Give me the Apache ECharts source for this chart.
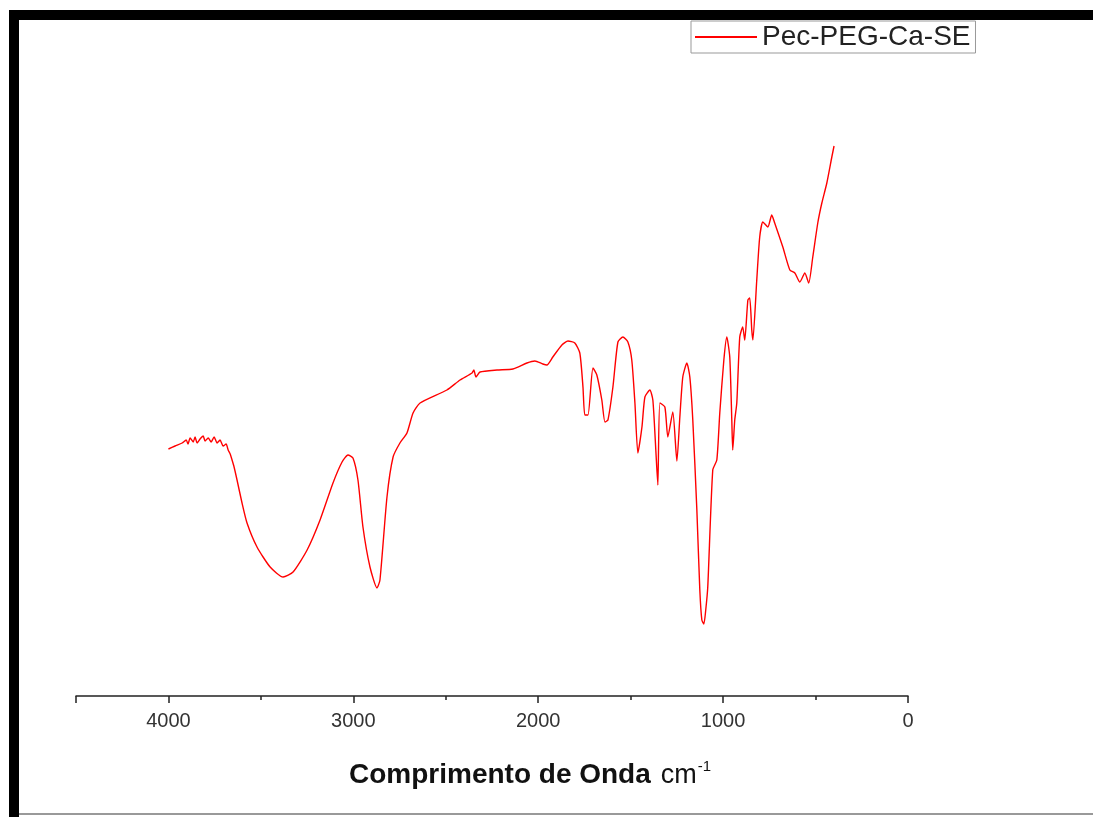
<!DOCTYPE html>
<html>
<head>
<meta charset="utf-8">
<script src="https://cdn.jsdelivr.net/npm/echarts@6/dist/echarts.min.js"></script>
<style>
html,body{margin:0;padding:0;background:#fff;}
#chart{width:1093px;height:817px;}
</style>
</head>
<body>
<div id="chart"></div>
<script>
// Wavenumber (cm^-1) and transmittance (arbitrary units)
const wavenumbers = [4000,3964,3926,3904,3894,3883,3866,3856,3845,3829,3812,3802,3785,3769,3753,3737,3721,3704,3688,3677,3666,3656,3645,3629,3602,3575,3521,3450,3380,3326,3250,3180,3110,3061,3029,3002,2975,2948,2910,2872,2856,2818,2785,2748,2710,2677,2639,2494,2423,2358,2348,2337,2315,2223,2137,2061,2018,1975,1953,1921,1872,1839,1802,1775,1758,1748,1731,1704,1683,1656,1639,1623,1596,1569,1542,1515,1494,1477,1461,1439,1423,1396,1380,1364,1353,1342,1315,1299,1272,1250,1234,1218,1196,1180,1164,1142,1126,1115,1104,1094,1083,1056,1034,1018,996,980,964,953,948,937,926,910,894,883,866,856,845,839,818,802,785,758,737,721,677,639,612,585,558,537,515,488,466,439,412,400];
const transmittance = [24.7,25.0,25.3,25.6,25.2,25.8,25.4,25.9,25.3,25.7,26.0,25.5,25.8,25.4,25.9,25.3,25.6,25.0,25.2,24.6,24.2,23.6,22.9,21.6,19.3,17.3,14.9,12.9,11.9,12.4,14.6,17.6,21.3,23.4,24.1,23.8,21.6,16.9,12.9,10.8,11.6,19.9,23.9,25.3,26.3,28.3,29.3,30.6,31.6,32.3,32.6,31.9,32.4,32.6,32.7,33.3,33.5,33.2,33.1,33.9,35.1,35.5,35.3,34.3,30.9,28.1,28.1,32.8,32.1,29.6,27.4,27.6,30.9,35.4,35.9,35.4,33.6,29.3,24.3,26.9,29.9,30.6,29.6,24.6,21.1,29.3,28.9,25.9,28.4,23.5,27.9,31.9,33.3,31.9,27.6,18.6,10.6,7.6,7.2,8.6,10.9,22.6,23.6,28.3,33.6,35.9,33.9,27.6,24.6,27.6,29.3,35.9,36.9,35.6,39.6,39.8,36.6,35.6,41.6,45.9,47.4,46.9,48.1,47.3,44.9,42.6,42.3,41.4,42.3,41.3,43.9,47.3,49.3,51.3,53.9,55.0];
const seriesName = 'Pec-PEG-Ca-SE';
const majorTicks = [0,1000,2000,3000,4000];
const xTitle = 'Comprimento de Onda';
const xUnit = 'cm';
const xUnitSup = '-1';

const chart = echarts.init(document.getElementById('chart'));
const pts = wavenumbers.map((w,i)=>[w, transmittance[i]]);
const FONT = 'Liberation Sans, Arial, sans-serif';

const commonX = {
  type:'value', inverse:true, min:0, max:4500, position:'bottom',
  splitLine:{show:false}
};

chart.setOption({
  backgroundColor:'#fff',
  animation:false,
  grid:{left:76, right:185, top:96, bottom:121},
  legend:{
    left:691, top:21,
    data:[{name:seriesName, icon:'rect'}],
    itemWidth:62, itemHeight:2,
    padding:[2,5,2,4],
    borderColor:'#999', borderWidth:1,
    textStyle:{fontFamily:FONT, fontSize:28, color:'#222'}
  },
  xAxis:[
    Object.assign({}, commonX, {
      interval:1000,
      axisLine:{show:true, lineStyle:{color:'#222', width:1.5}},
      axisTick:{show:true, inside:false, length:7, lineStyle:{color:'#222', width:1.5}},
      axisLabel:{
        margin:15, color:'#333', fontSize:20, fontFamily:FONT,
        formatter:(v)=> majorTicks.includes(v) ? String(v) : ''
      }
    }),
    Object.assign({}, commonX, {
      interval:500,
      axisLine:{show:false},
      axisTick:{show:true, inside:false, length:4, lineStyle:{color:'#222', width:1.5}},
      axisLabel:{show:false}
    })
  ],
  yAxis:{type:'value', min:0, max:60, show:false, splitLine:{show:false}},
  series:[{
    name:seriesName, type:'line', xAxisIndex:0, data:pts,
    showSymbol:false, symbol:'none', smooth:0.2,
    lineStyle:{color:'#ff0000', width:1.4},
    itemStyle:{color:'#ff0000'}
  }],
  graphic:[
    {type:'rect', shape:{x:9, y:10, width:1084, height:10}, style:{fill:'#000'}},
    {type:'rect', shape:{x:9, y:10, width:10, height:807}, style:{fill:'#000'}},
    {type:'rect', shape:{x:19, y:813, width:1074, height:2}, style:{fill:'#999'}},
    {type:'text', left:349, top:759, style:{
      text:'{b|'+xTitle+'}{n|'+xUnit+'}{s|'+xUnitSup+'}',
      rich:{
        b:{fontFamily:FONT, fontWeight:'bold', fontSize:28, fill:'#111'},
        n:{fontFamily:FONT, fontSize:27, fill:'#111', padding:[0,0,0,10]},
        s:{fontFamily:FONT, fontSize:15, fill:'#111', padding:[0,0,18,1]}
      }
    }}
  ]
});
</script>
</body>
</html>
